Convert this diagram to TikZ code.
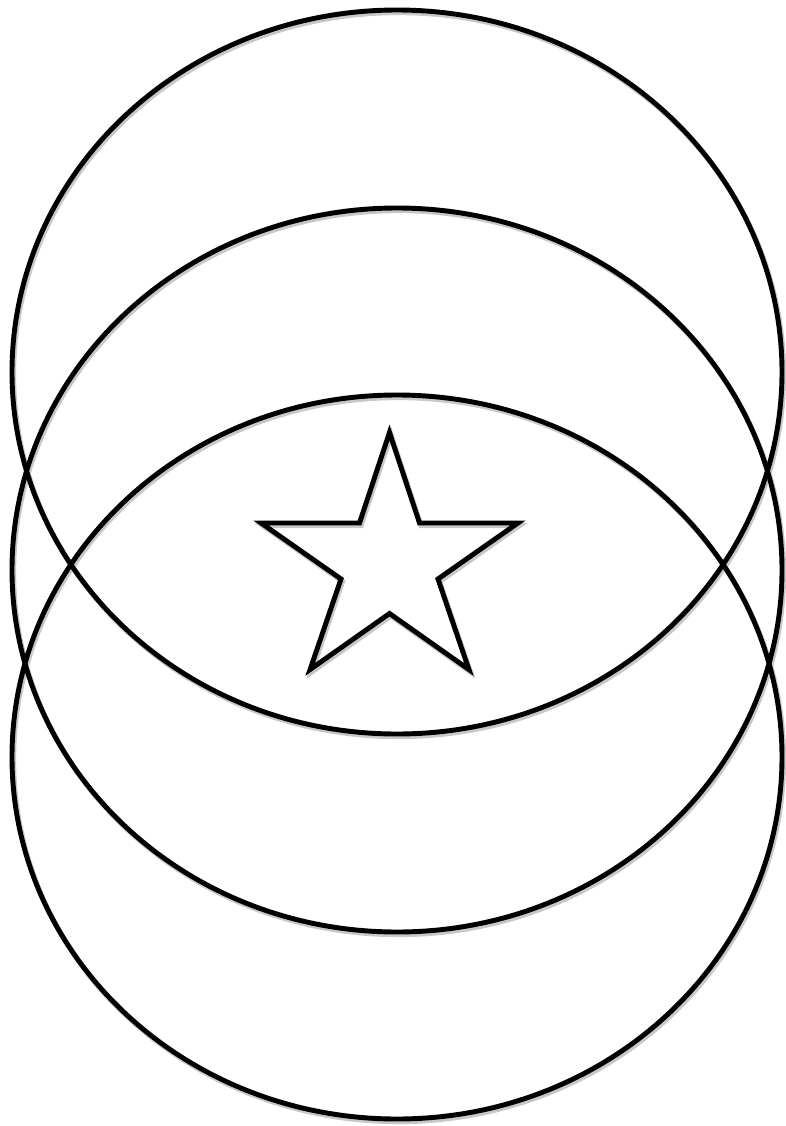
\documentclass[tikz,border=0pt]{standalone}
\usepackage{xcolor}
\definecolor{shadowgray}{RGB}{200,200,200}
\tikzset{
  % Ring outline
  ring/.style={draw=black, line width=2.8pt},
  % Soft drop shadow under every outline
  softshadow/.style={draw=shadowgray, line width=3pt, shift={(1.5,2.5)}},
  % Star outline
  starline/.style={draw=black, line width=2.8pt, line join=miter}
}

\begin{document}
\begin{tikzpicture}[x=0.02cm, y=-0.02cm]
  % Page frame
  \fill[white] (0,0) rectangle (785,1126);
  \useasboundingbox (0,0) rectangle (785,1126);

  % Shadows
  \foreach \cy in {372,570,757}
    \draw[softshadow] (397,\cy) ellipse [x radius=385, y radius=362];
  \draw[softshadow] (389.5,432.5) -- (419.5,523) -- (517.9,523) -- (438,579)
    -- (468.9,669.5) -- (389.5,613.5) -- (310.1,669.5) -- (341,579)
    -- (261.1,523) -- (359.5,523) -- cycle;

  % Rings: top, middle, bottom
  \foreach \cy in {372,570,757}
    \draw[ring] (397,\cy) ellipse [x radius=385, y radius=362];

  % Star
  \draw[starline] (389.5,432.5) -- (419.5,523) -- (517.9,523) -- (438,579)
    -- (468.9,669.5) -- (389.5,613.5) -- (310.1,669.5) -- (341,579)
    -- (261.1,523) -- (359.5,523) -- cycle;
\end{tikzpicture}
\end{document}
